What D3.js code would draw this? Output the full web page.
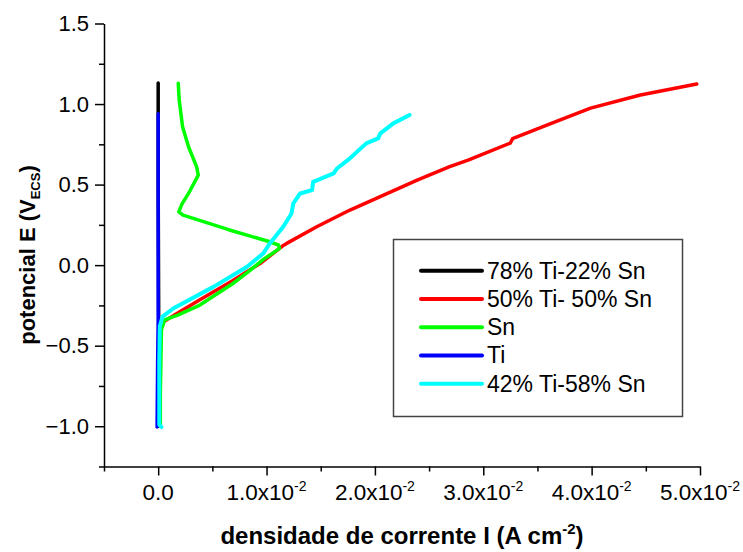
<!DOCTYPE html>
<html>
<head>
<meta charset="utf-8">
<script src="https://cdn.jsdelivr.net/npm/d3@7"></script>
<style>
  body { margin: 0; background: #fff; }
  svg { display: block; font-family: "Liberation Sans", Arial, sans-serif; }
  .axis path, .axis line { stroke: #000; stroke-width: 1.5; }
  .axis text { font-size: 22px; fill: #000; }
</style>
</head>
<body>
<div id="chart"></div>
<script>
// series names and colours (legend order)
var seriesNames = ["78% Ti-22% Sn", "50% Ti- 50% Sn", "Sn", "Ti", "42% Ti-58% Sn"];
var seriesColors = ["#000000", "#ff0000", "#00ff00", "#0000ff", "#00ffff"];

// [current density (A cm-2), potential (V)]
var ti78 = [[0.00005, -1.0], [0.00005, -0.4], [0, 0.5], [0, 1.13]];
var ti50 = [[0.0001, -1.0], [0.0001, -0.5], [0.0003, -0.36], [0.0015, -0.31], [0.00385, -0.215],
  [0.0069, -0.095], [0.0094, 0.01], [0.0115, 0.12], [0.01186, 0.135], [0.01463, 0.238],
  [0.0177, 0.342], [0.0208, 0.435], [0.0239, 0.528], [0.0269, 0.611], [0.0286, 0.652],
  [0.0325, 0.758], [0.0327, 0.785], [0.0361, 0.876], [0.0399, 0.975], [0.0445, 1.056], [0.0497, 1.124]];
var sn = [[0.0002, -1.0], [0.0002, -0.8], [0.0003, -0.4], [0.0006, -0.34], [0.0018, -0.31],
  [0.00385, -0.248], [0.0069, -0.114], [0.0083, -0.042], [0.0098, 0.04], [0.0108, 0.085],
  [0.0112, 0.104], [0.0111, 0.125], [0.0103, 0.145], [0.0065, 0.22], [0.0023, 0.31],
  [0.0019, 0.331], [0.0022, 0.38], [0.0028, 0.445], [0.0037, 0.559], [0.00355, 0.61],
  [0.0028, 0.735], [0.00225, 0.859], [0.00194, 1.025], [0.00185, 1.129]];
var ti = [[-0.0001, -1.005], [-0.00005, -0.6], [0, -0.35], [0, 0.2], [0, 0.94]];
var ti42 = [[0.0003, -1.005], [0.0001, -0.99], [0.0001, -0.6], [0.00015, -0.38], [0.0004, -0.32],
  [0.00138, -0.269], [0.0051, -0.135], [0.0082, -0.01], [0.0097, 0.073], [0.0103, 0.135],
  [0.01154, 0.238], [0.0123, 0.321], [0.01247, 0.383], [0.0131, 0.445], [0.0142, 0.466],
  [0.0143, 0.517], [0.0162, 0.57], [0.0165, 0.6], [0.0177, 0.663], [0.0192, 0.756],
  [0.0203, 0.787], [0.0205, 0.818], [0.0217, 0.88], [0.0232, 0.932]];
var allSeries = [ti78, ti50, sn, ti, ti42];

var xMajor = [0, 0.01, 0.02, 0.03, 0.04, 0.05];
var xMinor = [-0.005, 0.005, 0.015, 0.025, 0.035, 0.045];
var yMajor = [-1.0, -0.5, 0.0, 0.5, 1.0, 1.5];
var yMinor = [-1.25, -0.75, -0.25, 0.25, 0.75, 1.25];

var width = 743, height = 552;

var svg = d3.select("#chart")
    .append("svg")
    .attr("width", width)
    .attr("height", height);

var x = d3.scaleLinear().domain([-0.005, 0.05]).range([104, 700]),
    y = d3.scaleLinear().domain([-1.25, 1.5]).range([466.5, 23.5]);

// x axis
var xg = svg.append("g")
    .attr("class", "axis")
    .attr("transform", "translate(0," + y(-1.25) + ")");
xg.call(d3.axisBottom(x).tickValues(xMajor).tickSize(9).tickSizeOuter(0).tickFormat(""));
xg.append("g").call(d3.axisBottom(x).tickValues(xMinor).tickSize(5).tickSizeOuter(0).tickFormat(""))
  .select(".domain").remove();
xg.selectAll(".tick line").attr("stroke", "#000");

xMajor.forEach(function (v) {
  var t = svg.append("text")
      .attr("x", x(v))
      .attr("y", 500)
      .attr("text-anchor", "middle")
      .style("font-size", "22.5px");
  if (v === 0) {
    t.text("0.0");
  } else {
    t.append("tspan").text((v * 100).toFixed(1) + "x10");
    t.append("tspan").attr("dy", -9).style("font-size", "14px").text("-2");
  }
});

// y axis
var yg = svg.append("g")
    .attr("class", "axis")
    .attr("transform", "translate(" + x(-0.005) + ",0)");
yg.call(d3.axisLeft(y).tickValues(yMajor).tickSize(9).tickSizeOuter(0).tickFormat(d3.format(".1f")).tickPadding(6));
yg.append("g").call(d3.axisLeft(y).tickValues(yMinor).tickSize(5).tickSizeOuter(0).tickFormat(""))
  .select(".domain").remove();
yg.selectAll("text").style("font-family", "Liberation Sans, Arial, sans-serif");
yg.selectAll(".tick line").attr("stroke", "#000");

// axis titles
var xt = svg.append("text")
    .attr("x", 402)
    .attr("y", 544)
    .attr("text-anchor", "middle")
    .style("font-size", "24px")
    .style("font-weight", "bold");
xt.append("tspan").text("densidade de corrente I (A cm");
xt.append("tspan").attr("dy", -10).style("font-size", "15px").text("-2");
xt.append("tspan").attr("dy", 10).text(")");

var yt = svg.append("text")
    .attr("transform", "translate(35,255) rotate(-90)")
    .attr("text-anchor", "middle")
    .style("font-size", "22px")
    .style("font-weight", "bold");
yt.append("tspan").text("potencial E (V");
yt.append("tspan").attr("dy", 5).style("font-size", "13px").text("ECS");
yt.append("tspan").attr("dy", -5).text(")");

// curves
var line = d3.line()
    .x(function (d) { return x(d[0]); })
    .y(function (d) { return y(d[1]); });

allSeries.forEach(function (s, i) {
  svg.append("path")
      .datum(s)
      .attr("fill", "none")
      .attr("stroke", seriesColors[i])
      .attr("stroke-width", i === 4 ? 4 : 3.5)
      .attr("stroke-linejoin", "round")
      .attr("stroke-linecap", "round")
      .attr("d", line);
});

// legend
var legend = svg.append("g");
legend.append("rect")
    .attr("x", 393.5).attr("y", 239.5)
    .attr("width", 289).attr("height", 177)
    .attr("fill", "#fff")
    .attr("stroke", "#444")
    .attr("stroke-width", 1.5);

seriesNames.forEach(function (name, i) {
  var ly = 270.7 + i * 28.25;
  legend.append("line")
      .attr("x1", 421).attr("x2", 482)
      .attr("y1", ly).attr("y2", ly)
      .attr("stroke", seriesColors[i])
      .attr("stroke-width", 4)
      .attr("stroke-linecap", "round");
  legend.append("text")
      .attr("x", 487)
      .attr("y", ly + 8)
      .style("font-size", "23px")
      .text(name);
});
</script>
</body>
</html>
